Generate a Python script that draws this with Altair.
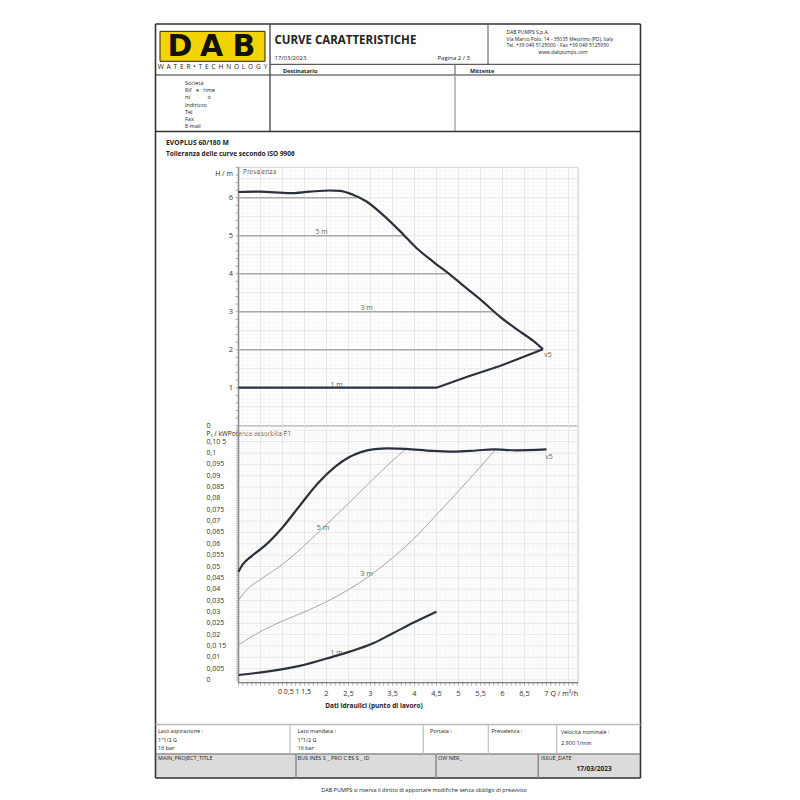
import altair as alt
import pandas as pd

FONT = "Open Sans"
M = 8  # page margin (page px -> view px)
NB = "\u00a0"

# ---------------- chart values ----------------
# Head curve, maximum speed (upper branch)
H_MAX_Q = [0, 0.48, 1.17, 1.62, 2.07, 2.3, 2.6, 2.91, 3.29, 3.67, 4.05, 4.42, 4.8, 5.18, 5.56, 5.94, 6.32, 6.7, 6.92]
H_MAX_H = [6.15, 6.16, 6.12, 6.16, 6.19, 6.18, 6.08, 5.9, 5.54, 5.12, 4.67, 4.32, 3.98, 3.62, 3.26, 2.87, 2.54, 2.23, 2.01]
# Head curve, lower branch (1 m line up to v5 end)
H_MIN_Q = [0, 4.5, 5.2, 5.94, 6.92]
H_MIN_H = [1.0, 1.0, 1.29, 1.57, 2.01]
# constant-head lines drawn inside the field
ISO_LEVELS = [6, 5, 4, 3, 2]
ISO_END_Q = [2.68, 3.74, 4.73, 5.79, 6.92]
# labels inside the head plot
H_LABELS = ["5 m", "3 m", "1 m"]
H_LABEL_Q = [1.89, 2.91, 2.23]
H_LABEL_H = [5.1, 3.1, 1.08]

# Power curves
P_MAX_Q = [0, 0.1, 0.3, 0.6, 1.0, 1.4, 1.8, 2.2, 2.5, 2.8, 3.1, 3.4, 3.8, 4.4, 4.9, 5.4, 5.8, 6.3, 7.0]
P_MAX_P = [0.0477, 0.0510, 0.0546, 0.0592, 0.0672, 0.0770, 0.0866, 0.0940, 0.0980, 0.1005, 0.1017, 0.1020, 0.1018, 0.1009, 0.1006, 0.1011, 0.1016, 0.1012, 0.1016]
P_5M_Q = [0, 0.18, 0.5, 1.0, 1.5, 2.0, 2.5, 3.0, 3.5, 3.78]
P_5M_P = [0.0352, 0.0396, 0.0443, 0.0510, 0.0593, 0.0685, 0.0778, 0.0873, 0.0966, 0.1013]
P_3M_Q = [0, 0.33, 1.0, 1.5, 2.0, 2.5, 3.0, 3.5, 4.0, 4.5, 5.0, 5.5, 5.83]
P_3M_P = [0.0154, 0.0195, 0.0260, 0.0300, 0.0345, 0.0398, 0.0462, 0.0538, 0.0625, 0.0728, 0.0832, 0.0940, 0.1013]
P_1M_Q = [0, 0.64, 1.39, 2.15, 2.53, 3.06, 3.51, 3.97, 4.5]
P_1M_P = [0.0022, 0.0037, 0.0062, 0.0103, 0.0125, 0.0162, 0.0206, 0.0252, 0.0301]
P_LABELS = ["5 m", "3 m", "1 m"]
P_LABEL_Q = [1.92, 2.91, 2.23]
P_LABEL_P = [0.067, 0.0465, 0.0118]

# tick labels
X_LABEL_VALUES = [2, 2.5, 3, 3.5, 4, 4.5, 5, 5.5, 6, 6.5, 7]
X_LABELS = ["2", "2,5", "3", "3,5", "4", "4,5", "5", "5,5", "6", "6,5", "7"]
H_LABEL_VALUES = [1, 2, 3, 4, 5, 6]
H_TICK_LABELS = ["1", "2", "3", "4", "5", "6"]
P_LABEL_VALUES = [0, 0.005, 0.01, 0.015, 0.02, 0.025, 0.03, 0.035, 0.04, 0.045, 0.05,
                  0.055, 0.06, 0.065, 0.07, 0.075, 0.08, 0.085, 0.09, 0.095, 0.1, 0.105]
P_TICK_LABELS = ["0", "0,005", "0,01", "0,0 15", "0,02", "0,025", "0,03", "0,035", "0,04", "0,045", "0,05",
                 "0,055", "0,06", "0,065", "0,07", "0,075", "0,08", "0,085", "0,09", "0,095", "0,1", "0,10 5"]

# ---------------- plot geometry ----------------
X_MAX, H_TOP, P_TOP, P_BOT = 7.72, 6.8, 0.1123, -0.0012
X0, XPU = 238.5, 44.0          # page px of Q=0, px per m3/h
H0, HPU = 425.7, 38.0          # page px of H=0, px per m
P0, PPU = 680.0, 2270.0        # page px of P=0, px per kW

xs = alt.Scale(domain=[0, X_MAX], range=[X0 - M, X0 + X_MAX * XPU - M], nice=False, zero=False)
hs = alt.Scale(domain=[0, H_TOP], range=[H0 - M, H0 - H_TOP * HPU - M], nice=False, zero=False)
ps = alt.Scale(domain=[P_BOT, P_TOP], range=[P0 - P_BOT * PPU - M, P0 - P_TOP * PPU - M], nice=False, zero=False)

XN = lambda f: alt.X(f, scale=xs, axis=None)
HN = lambda f: alt.Y(f, scale=hs, axis=None)
PN = lambda f: alt.Y(f, scale=ps, axis=None)
XD = lambda v: alt.X(datum=v, scale=xs, axis=None)
HD = lambda v: alt.Y(datum=v, scale=hs, axis=None)
PD = lambda v: alt.Y(datum=v, scale=ps, axis=None)

# ---------------- head plot ----------------
vminor = pd.DataFrame({"q": [round(i * 0.1, 1) for i in range(0, 78)]})
vmajor = pd.DataFrame({"q": [round(i * 0.5, 1) for i in range(1, 16)]})
hminor = pd.DataFrame({"h": [round(i * 0.1, 1) for i in range(1, 68)]})
hmajor = pd.DataFrame({"h": [round(i * 0.5, 1) for i in range(1, 14)]})
h_ticks = pd.DataFrame({"h": [round(i * 0.2, 1) for i in range(0, 35)]})
h_lab = pd.DataFrame({"h": H_LABEL_VALUES, "t": H_TICK_LABELS})

h_layers = [
    alt.Chart(vminor).mark_rule(color="#f3f3f3", strokeWidth=0.6).encode(x=XN("q:Q"), y=HD(0), y2=alt.Y2(datum=H_TOP)),
    alt.Chart(hminor).mark_rule(color="#f3f3f3", strokeWidth=0.6).encode(y=HN("h:Q"), x=XD(0), x2=alt.X2(datum=X_MAX)),
    alt.Chart(vmajor).mark_rule(color="#e2e2e2", strokeWidth=0.8).encode(x=XN("q:Q"), y=HD(0), y2=alt.Y2(datum=H_TOP)),
    alt.Chart(hmajor).mark_rule(color="#e2e2e2", strokeWidth=0.8).encode(y=HN("h:Q"), x=XD(0), x2=alt.X2(datum=X_MAX)),
    # frame: top border, right border, baseline (H = 0)
    alt.Chart(pd.DataFrame({"h": [H_TOP]})).mark_rule(color="#d2d2d2", strokeWidth=1).encode(
        y=HN("h:Q"), x=XD(0), x2=alt.X2(datum=X_MAX)),
    alt.Chart(pd.DataFrame({"q": [X_MAX]})).mark_rule(color="#cfcfcf", strokeWidth=1).encode(
        x=XN("q:Q"), y=HD(0), y2=alt.Y2(datum=H_TOP)),
    alt.Chart(pd.DataFrame({"h": [0]})).mark_rule(color="#9a9a9a", strokeWidth=1.6).encode(
        y=HN("h:Q"), x=XD(0), x2=alt.X2(datum=X_MAX)),
    # y axis: ticks, domain, labels
    alt.Chart(h_ticks).mark_rule(color="#9a9a9a", strokeWidth=0.8).encode(
        y=HN("h:Q"), x=XD(0), x2=alt.X2(datum=-3 / XPU)),
    alt.Chart(pd.DataFrame({"q": [0]})).mark_rule(color="#8c8c8c", strokeWidth=1.6).encode(
        x=XN("q:Q"), y=HD(0), y2=alt.Y2(datum=H_TOP)),
    alt.Chart(h_lab).mark_text(font=FONT, fontSize=7.5, color="#333", align="right", baseline="middle").encode(
        y=HN("h:Q"), x=XD(-5.5 / XPU), text="t:N"),
    # iso-head lines and curves
    alt.Chart(pd.DataFrame({"level": ISO_LEVELS, "end": ISO_END_Q, "start": [0] * len(ISO_LEVELS)}))
    .mark_rule(color="#a8a8a8", strokeWidth=1.6).encode(y=HN("level:Q"), x=XN("start:Q"), x2="end:Q"),
    alt.Chart(pd.DataFrame({"q": H_MAX_Q, "h": H_MAX_H})).mark_line(
        color="#2b313b", strokeWidth=2.2, interpolate="monotone").encode(x=XN("q:Q"), y=HN("h:Q")),
    alt.Chart(pd.DataFrame({"q": H_MIN_Q, "h": H_MIN_H})).mark_line(
        color="#2b313b", strokeWidth=2.2).encode(x=XN("q:Q"), y=HN("h:Q")),
    alt.Chart(pd.DataFrame({"q": H_LABEL_Q, "h": H_LABEL_H, "t": H_LABELS})).mark_text(
        font=FONT, fontSize=7, color="#666", baseline="middle").encode(x=XN("q:Q"), y=HN("h:Q"), text="t:N"),
    alt.Chart(pd.DataFrame({"q": [6.95], "h": [1.86], "t": ["v5"]})).mark_text(
        font=FONT, fontSize=7, color="#666", align="left", baseline="middle").encode(
        x=XN("q:Q"), y=HN("h:Q"), text="t:N"),
]
h_chart = alt.layer(*h_layers)

# ---------------- power plot ----------------
pminor = pd.DataFrame({"p": [round(i * 0.001, 3) for i in range(0, 113)]})
pmajor = pd.DataFrame({"p": [round(i * 0.005, 3) for i in range(0, 23)]})
p_ticks = pd.DataFrame({"p": [round(i * 0.001, 3) for i in range(0, 112)]})
x_ticks = pd.DataFrame({"q": [round(i * 0.1, 1) for i in range(0, 78)]})
p_lab = pd.DataFrame({"p": P_LABEL_VALUES, "t": P_TICK_LABELS})
x_lab = pd.DataFrame({"q": X_LABEL_VALUES, "t": X_LABELS})

p_layers = [
    alt.Chart(vminor).mark_rule(color="#f3f3f3", strokeWidth=0.6).encode(x=XN("q:Q"), y=PD(P_BOT), y2=alt.Y2(datum=P_TOP)),
    alt.Chart(pminor).mark_rule(color="#f3f3f3", strokeWidth=0.6).encode(y=PN("p:Q"), x=XD(0), x2=alt.X2(datum=X_MAX)),
    alt.Chart(vmajor).mark_rule(color="#e2e2e2", strokeWidth=0.8).encode(x=XN("q:Q"), y=PD(P_BOT), y2=alt.Y2(datum=P_TOP)),
    alt.Chart(pmajor).mark_rule(color="#e2e2e2", strokeWidth=0.8).encode(y=PN("p:Q"), x=XD(0), x2=alt.X2(datum=X_MAX)),
    alt.Chart(pd.DataFrame({"q": [X_MAX]})).mark_rule(color="#cfcfcf", strokeWidth=1).encode(
        x=XN("q:Q"), y=PD(P_BOT), y2=alt.Y2(datum=P_TOP)),
    # y axis
    alt.Chart(p_ticks).mark_rule(color="#9a9a9a", strokeWidth=0.7).encode(
        y=PN("p:Q"), x=XD(0), x2=alt.X2(datum=-2.5 / XPU)),
    alt.Chart(pd.DataFrame({"q": [0]})).mark_rule(color="#8c8c8c", strokeWidth=1.6).encode(
        x=XN("q:Q"), y=PD(P_BOT), y2=alt.Y2(datum=P_TOP)),
    alt.Chart(p_lab).mark_text(font=FONT, fontSize=7, color="#333", align="left", baseline="middle").encode(
        y=PN("p:Q"), x=XD((206.5 - X0) / XPU), text="t:N"),
    # x axis
    alt.Chart(x_ticks).mark_rule(color="#8a8a8a", strokeWidth=0.7).encode(
        x=XN("q:Q"), y=PD(P_BOT), y2=alt.Y2(datum=P_BOT - 3 / PPU)),
    alt.Chart(pd.DataFrame({"p": [P_BOT]})).mark_rule(color="#777", strokeWidth=1.3).encode(
        y=PN("p:Q"), x=XD(0), x2=alt.X2(datum=X_MAX)),
    alt.Chart(x_lab).mark_text(font=FONT, fontSize=7.5, color="#333", baseline="middle").encode(
        x=XN("q:Q"), y=PD((P0 - 693.5) / PPU), text="t:N"),
    # curves
    alt.Chart(pd.DataFrame({"q": P_5M_Q, "p": P_5M_P})).mark_line(
        color="#8f8f8f", strokeWidth=0.8, interpolate="monotone").encode(x=XN("q:Q"), y=PN("p:Q")),
    alt.Chart(pd.DataFrame({"q": P_3M_Q, "p": P_3M_P})).mark_line(
        color="#8f8f8f", strokeWidth=0.8, interpolate="monotone").encode(x=XN("q:Q"), y=PN("p:Q")),
    alt.Chart(pd.DataFrame({"q": P_MAX_Q, "p": P_MAX_P})).mark_line(
        color="#2b313b", strokeWidth=2.2, interpolate="monotone").encode(x=XN("q:Q"), y=PN("p:Q")),
    alt.Chart(pd.DataFrame({"q": P_1M_Q, "p": P_1M_P})).mark_line(
        color="#2b313b", strokeWidth=2.2, interpolate="monotone").encode(x=XN("q:Q"), y=PN("p:Q")),
    alt.Chart(pd.DataFrame({"q": P_LABEL_Q, "p": P_LABEL_P, "t": P_LABELS})).mark_text(
        font=FONT, fontSize=7, color="#666", baseline="middle").encode(x=XN("q:Q"), y=PN("p:Q"), text="t:N"),
    alt.Chart(pd.DataFrame({"q": [6.97], "p": [0.0984], "t": ["v5"]})).mark_text(
        font=FONT, fontSize=7, color="#666", align="left", baseline="middle").encode(
        x=XN("q:Q"), y=PN("p:Q"), text="t:N"),
]
p_chart = alt.layer(*p_layers)

# ---------------- sheet decoration (page px) ----------------
L, R, T, B = 155.5, 640.5, 24, 778
lines = [
    (L, T, R, T, "#333", 1.6), (L, B, R, B, "#333", 1.6), (L, T, L, B, "#333", 1.6), (R, T, R, B, "#333", 1.6),
    (270, T, 270, 131, "#333", 1.2), (488, T, 488, 64, "#555", 1.0), (270, 64.3, R, 64.3, "#333", 1.0),
    (L, 75, R, 75, "#333", 1.1), (455, 75, 455, 131, "#aaa", 1.5), (455, 64.3, 455, 75, "#555", 1.0),
    (L, 131.5, R, 131.5, "#333", 1.6),
    (L, 724.5, R, 724.5, "#bbb", 1.5), (L, 754, R, 754, "#666", 1.0),
    (290, 724.5, 290, 754, "#c4c4c4", 1.3), (423.3, 724.5, 423.3, 754, "#c4c4c4", 1.3),
    (488.3, 724.5, 488.3, 754, "#c4c4c4", 1.3), (556.7, 724.5, 556.7, 754, "#c4c4c4", 1.3),
    (296, 754, 296, B, "#8a8a8a", 1.5), (436, 754, 436, B, "#8a8a8a", 1.5), (538.3, 754, 538.3, B, "#8a8a8a", 1.5),
]
ldf = pd.DataFrame(lines, columns=["x", "y", "x2", "y2", "c", "w"])
for col in ["x", "y", "x2", "y2"]:
    ldf[col] = ldf[col] - M

rects = [(L, 754, R, B, "#dcdcdc", "#dcdcdc"), (160, 31.3, 265, 61.3, "#f3d400", "#222")]
rdf = pd.DataFrame(rects, columns=["x", "y", "x2", "y2", "f", "s"])
for col in ["x", "y", "x2", "y2"]:
    rdf[col] = rdf[col] - M

PX = lambda f: alt.X(f, scale=None, axis=None)
PY = lambda f: alt.Y(f, scale=None, axis=None)

rect_layer = alt.Chart(rdf).mark_rect(strokeWidth=1).encode(
    x=PX("x:Q"), x2="x2:Q", y=PY("y:Q"), y2="y2:Q",
    fill=alt.Fill("f:N", scale=None), stroke=alt.Stroke("s:N", scale=None))
line_layer = alt.Chart(ldf).mark_rule().encode(
    x=PX("x:Q"), x2="x2:Q", y=PY("y:Q"), y2="y2:Q",
    color=alt.Color("c:N", scale=None), strokeWidth=alt.StrokeWidth("w:Q", scale=None))

F = 5.5
CF = 5.0
texts_left = [
    ("17/03/2023", 274.5, 58, 6), ("Pagina 2 / 3", 437.5, 58, 6),
    ("DAB PUMPS S.p.A.", 506.5, 32, CF), ("Via Marco Polo, 14 - 35035 Mestrino (PD), Italy", 506.5, 38.6, CF),
    ("Tel. +39 049 5125000 - Fax +39 049 5125950", 506.5, 45.1, CF),
    ("Società", 185, 83.3, F), (f"Rif{NB*3}e{NB*3}rime", 185, 90.3, F), (f"nt{NB*12}o", 185, 97.3, F),
    ("Indirizzo", 185, 104.5, F), ("Tel", 185, 111.7, F), ("Fax", 185, 118.7, F), ("E-mail", 185, 126, F),
    ("Prevalenza", 243, 172, 6.5), ("P\u2081 / kWPotenza assorbita P1", 206.5, 434, 6.5),
    ("0", 206.5, 425.5, 7), ("0 0,5 1 1,5", 278, 692, 7), ("Q / m\u00b3/h", 550.5, 693.5, 7),
    ("Lato aspirazione :", 158, 730.5, F), ("1\"1/2 G", 158, 739.5, F), ("16 bar", 158, 748, F),
    ("Lato mandata :", 297.5, 730.5, F), ("1\"1/2 G", 297.5, 739.5, F), ("16 bar", 297.5, 748, F),
    ("Portata :", 430, 730.5, F), ("Prevalenza :", 491.5, 730.5, F),
    ("Velocità nominale :", 561, 731.5, F), ("2.900 1/min", 561, 743, F),
    ("MAIN_PROJECT_TITLE", 158, 757.7, F), ("BUS INES S _ PRO C ES S _ ID", 297.5, 757.7, F),
    ("OW NER_", 438, 757.7, F), ("ISSUE_DATE", 541, 757.7, F),
]
texts_left_bold = [
    ("CURVE CARATTERISTICHE", 274.5, 40.5, 11.5), ("Destinatario", 283, 70.5, F), ("Mittente", 470, 70.5, F),
    ("EVOPLUS 60/180 M", 166, 142.7, 6.8), ("Tolleranza delle curve secondo ISO 9906", 166, 153.7, 6.5),
    ("17/03/2023", 576.5, 769.3, 6.5),
]
SEP = " \u2009"
texts_center = [
    ("www.dabpumps.com", 563, 51.6, CF),
    (SEP.join(list("WATER")) + SEP + "\u2022" + SEP + SEP.join(list("TECHNOLOGY")), 212.5, 67.3, 6.6),
    ("DAB PUMPS si riserva il diritto di apportare modifiche senza obbligo di preavviso", 424, 790, F),
]
texts_center_bold = [("Dati idraulici (punto di lavoro)", 374, 705.7, 6.5)]
texts_right = [("H / m", 233, 174.3, 7)]
logo_letters = [("D", 180, 47.3, 30), ("A", 211.7, 47.3, 30), ("B", 244, 47.3, 30)]


def text_layer(rows, align, weight="normal", font=FONT, color="#222"):
    df = pd.DataFrame(rows, columns=["t", "x", "y", "s"])
    df["x"] = df["x"] - M
    df["y"] = df["y"] - M
    return alt.Chart(df).mark_text(font=font, fontWeight=weight, align=align, baseline="middle", color=color).encode(
        x=PX("x:Q"), y=PY("y:Q"), text="t:N", size=alt.Size("s:Q", scale=None, legend=None))


decor = [
    rect_layer, line_layer,
    text_layer(texts_left, "left"), text_layer(texts_left_bold, "left", "bold"),
    text_layer(texts_center, "center"), text_layer(texts_center_bold, "center", "bold"),
    text_layer(texts_right, "right"),
    text_layer(logo_letters, "center", "bold", font="DejaVu Sans", color="#111"),
]

chart = alt.layer(*decor, h_chart, p_chart).resolve_scale(x="independent", y="independent").properties(
    width=784, height=790, autosize=alt.AutoSizeParams(type="none"), padding=0, background="white"
).configure_view(strokeWidth=0)

chart.save("out.html", embed_options={"renderer": "svg", "actions": False})
